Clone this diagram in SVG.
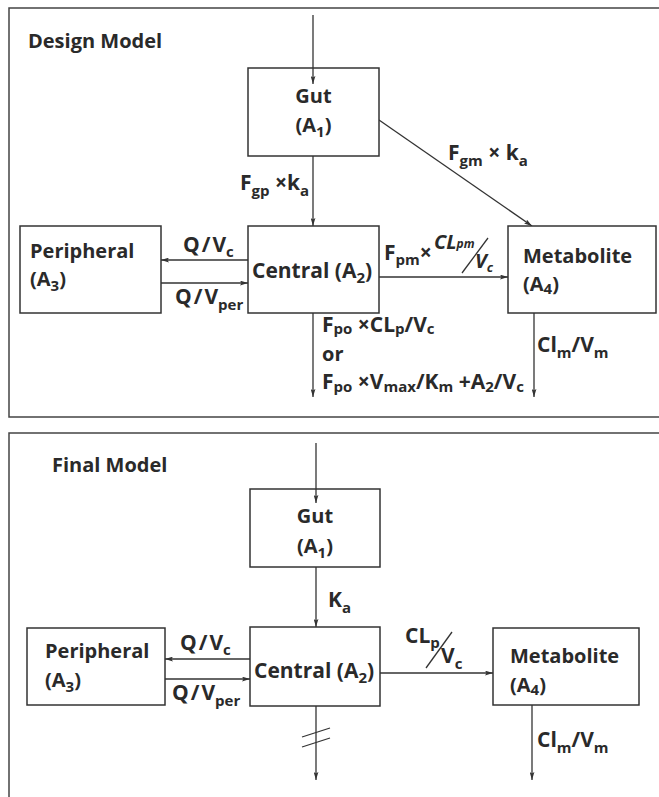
<svg xmlns="http://www.w3.org/2000/svg" width="659" height="797" viewBox="0 0 659 797">
<defs>
<style>
.t{font-family:"Open Sans","Liberation Sans",sans-serif;font-weight:bold;font-size:20px;fill:#2a2a2a}
.l{font-size:21px}
.s{font-size:15px}
.i{font-style:italic}
.box{fill:#fff;stroke:#333;stroke-width:1.5}
.ln{stroke:#333;stroke-width:1.3;fill:none}
.fr{stroke:#444;stroke-width:1.5;fill:none}
</style>
<marker id="ah" viewBox="0 0 10 6" refX="10" refY="3" markerWidth="8" markerHeight="5" orient="auto" markerUnits="userSpaceOnUse">
<path d="M0,0 L10,3 L0,6 L2,3 z" fill="#333"/>
</marker>
</defs>
<rect width="659" height="797" fill="#fff"/>

<g id="frames">
<path class="fr" d="M659,8 H9 V417 H659"/>
<path class="fr" d="M659,433 H9 V797"/>
<text class="t" x="28" y="48">Design Model</text>
<text class="t" x="52" y="472">Final Model</text>
</g>

<g id="connectors">
<line class="ln" x1="313" y1="15" x2="313" y2="84" marker-end="url(#ah)"/>
<line class="ln" x1="313" y1="156" x2="313" y2="226" marker-end="url(#ah)"/>
<line class="ln" x1="379" y1="120" x2="532" y2="226" marker-end="url(#ah)"/>
<line class="ln" x1="248" y1="260" x2="161" y2="260" marker-end="url(#ah)"/>
<line class="ln" x1="161" y1="283" x2="248" y2="283" marker-end="url(#ah)"/>
<line class="ln" x1="379" y1="277" x2="508" y2="277" marker-end="url(#ah)"/>
<line class="ln" x1="313" y1="313" x2="313" y2="397" marker-end="url(#ah)"/>
<line class="ln" x1="534" y1="313" x2="534" y2="397" marker-end="url(#ah)"/>
<line class="ln" x1="462" y1="273" x2="488" y2="238"/>

<line class="ln" x1="316" y1="443" x2="316" y2="503" marker-end="url(#ah)"/>
<line class="ln" x1="316" y1="567" x2="316" y2="627" marker-end="url(#ah)"/>
<line class="ln" x1="250" y1="659" x2="165" y2="659" marker-end="url(#ah)"/>
<line class="ln" x1="165" y1="679" x2="250" y2="679" marker-end="url(#ah)"/>
<line class="ln" x1="380" y1="673" x2="493" y2="673" marker-end="url(#ah)"/>
<line class="ln" x1="316" y1="706" x2="316" y2="780" marker-end="url(#ah)"/>
<line class="ln" x1="532" y1="705" x2="532" y2="780" marker-end="url(#ah)"/>
<line class="ln" x1="302" y1="747" x2="330" y2="738"/>
<line class="ln" x1="302" y1="737" x2="330" y2="728"/>
<line class="ln" x1="426" y1="668" x2="452" y2="632"/>

<text class="t l" x="240" y="190">F<tspan class="s" dy="6">gp</tspan><tspan dy="-6"> ×k</tspan><tspan class="s" dy="6">a</tspan></text>
<text class="t l" x="448" y="160">F<tspan class="s" dy="6">gm</tspan><tspan dy="-6"> × k</tspan><tspan class="s" dy="6">a</tspan></text>
<text class="t l" x="183" y="252">Q<tspan dx="2">/</tspan><tspan dx="2">V</tspan><tspan class="s" dy="5">c</tspan></text>
<text class="t l" x="175" y="304">Q<tspan dx="2">/</tspan><tspan dx="2">V</tspan><tspan class="s" dy="6">per</tspan></text>
<text class="t l" x="384" y="260">F<tspan class="s" dy="5">pm</tspan><tspan dy="-5">×</tspan></text>
<text class="t i" x="434" y="249" font-size="17">CL<tspan font-size="12" dy="-1">pm</tspan></text>
<text class="t i" x="475" y="268" font-size="18">V<tspan font-size="13" dy="4">c</tspan></text>
<text class="t l" x="322" y="332">F<tspan class="s" dy="2">po</tspan><tspan dy="-2"> ×CL</tspan><tspan class="s" dy="2">p</tspan><tspan dy="-2">/V</tspan><tspan class="s" dy="2">c</tspan></text>
<text class="t" x="322" y="361" font-size="19">or</text>
<text class="t l" x="322" y="389">F<tspan class="s" dy="3">po</tspan><tspan dy="-3"> ×V</tspan><tspan class="s" dy="3">max</tspan><tspan dy="-3">/K</tspan><tspan class="s" dy="3">m</tspan><tspan dy="-3"> +A</tspan><tspan class="s" dy="3">2</tspan><tspan dy="-3">/V</tspan><tspan class="s" dy="3">c</tspan></text>
<text class="t l" x="537" y="352">Cl<tspan class="s" dy="6">m</tspan><tspan dy="-6">/V</tspan><tspan class="s" dy="6">m</tspan></text>

<text class="t l" x="328" y="607">K<tspan class="s" dy="6">a</tspan></text>
<text class="t l" x="180" y="650">Q<tspan dx="2">/</tspan><tspan dx="2">V</tspan><tspan class="s" dy="5">c</tspan></text>
<text class="t l" x="172" y="700">Q<tspan dx="2">/</tspan><tspan dx="2">V</tspan><tspan class="s" dy="6">per</tspan></text>
<text class="t l" x="405" y="643">CL<tspan class="s" dy="5">p</tspan></text>
<text class="t l" x="441" y="663">V<tspan class="s" dy="6">c</tspan></text>
<text class="t l" x="537" y="747">Cl<tspan class="s" dy="6">m</tspan><tspan dy="-6">/V</tspan><tspan class="s" dy="6">m</tspan></text>
</g>

<g id="gut1">
<rect class="box" x="248" y="68" width="131" height="88"/>
<line class="ln" x1="313" y1="68" x2="313" y2="84" marker-end="url(#ah)"/>
<text class="t" x="313.5" y="103" text-anchor="middle">Gut</text>
<text class="t" x="313.5" y="132" text-anchor="middle">(A<tspan class="s" dy="5">1</tspan><tspan dy="-5">)</tspan></text>
</g>
<g id="central1">
<rect class="box" x="248" y="226" width="131" height="87"/>
<text class="t l" x="252" y="278">Central (A<tspan class="s" dy="5">2</tspan><tspan dy="-5">)</tspan></text>
</g>
<g id="peripheral1">
<rect class="box" x="20" y="226" width="141" height="87"/>
<text class="t" x="30" y="258">Peripheral</text>
<text class="t" x="30" y="286">(A<tspan class="s" dy="5">3</tspan><tspan dy="-5">)</tspan></text>
</g>
<g id="metabolite1">
<rect class="box" x="508" y="226" width="148" height="87"/>
<text class="t" x="523" y="263">Metabolite</text>
<text class="t" x="523" y="291">(A<tspan class="s" dy="3">4</tspan><tspan dy="-3">)</tspan></text>
</g>

<g id="gut2">
<rect class="box" x="250" y="489" width="130" height="78"/>
<line class="ln" x1="316" y1="489" x2="316" y2="503" marker-end="url(#ah)"/>
<text class="t" x="315" y="523" text-anchor="middle">Gut</text>
<text class="t" x="315" y="553" text-anchor="middle">(A<tspan class="s" dy="5">1</tspan><tspan dy="-5">)</tspan></text>
</g>
<g id="central2">
<rect class="box" x="250" y="627" width="130" height="79"/>
<text class="t l" x="254" y="678">Central (A<tspan class="s" dy="5">2</tspan><tspan dy="-5">)</tspan></text>
</g>
<g id="peripheral2">
<rect class="box" x="27" y="628" width="138" height="77"/>
<text class="t" x="45" y="658">Peripheral</text>
<text class="t" x="45" y="687">(A<tspan class="s" dy="5">3</tspan><tspan dy="-5">)</tspan></text>
</g>
<g id="metabolite2">
<rect class="box" x="493" y="628" width="146" height="77"/>
<text class="t" x="510" y="663">Metabolite</text>
<text class="t" x="510" y="692">(A<tspan class="s" dy="3">4</tspan><tspan dy="-3">)</tspan></text>
</g>
</svg>
